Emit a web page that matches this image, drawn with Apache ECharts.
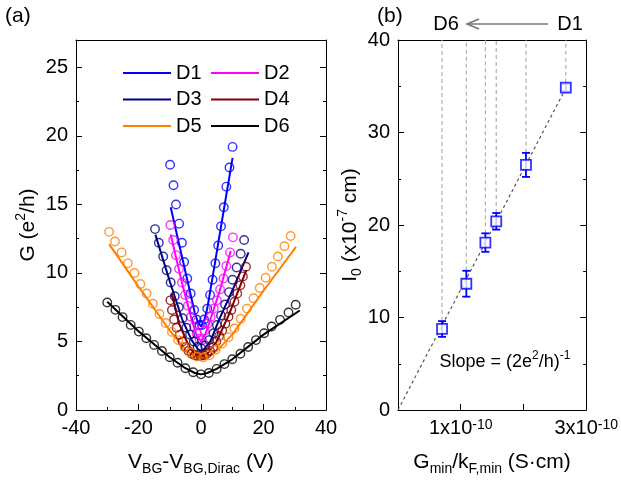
<!DOCTYPE html>
<html><head><meta charset="utf-8">
<script src="https://cdn.jsdelivr.net/npm/echarts@6/dist/echarts.min.js"></script>
<style>html,body{margin:0;padding:0;background:#fff}#c{width:621px;height:489px}</style>
</head><body><div id="c"></div>
<script>
// ---------- data: panel (a) ----------
const deviceNames = ['D1','D2','D3','D4','D5','D6'];
const d1V = [-9.9,-8.8,-8.0,-7.0,-6.1,-5.4,-4.4,-3.3,-2.2,-1.4,-0.5,0.3,1.0,2.0,2.9,3.7,4.6,5.5,6.4,7.3,8.1,9.1,10.1];
const d1G = [17.9,16.4,15.0,13.6,12.2,10.8,9.6,8.5,7.3,6.6,6.2,6.2,6.6,7.4,8.4,9.5,10.7,12.0,13.4,14.8,16.3,17.7,19.2];
const d1FitV = [-9.7,-7,-4,-2,-1,0,1,2,4,7,10.1];
const d1FitG = [14.8,12.1,9.1,7.1,6.4,6.1,6.5,7.4,10.1,14.2,18.4];

const d2V = [-9.8,-8.9,-8.0,-7.0,-6.1,-5.1,-4.2,-3.2,-2.2,-1.4,-0.5,0.3,1.2,2.1,3.1,4.1,5.1,6.1,7.2,8.1,9.3,10.2];
const d2G = [13.5,12.4,11.3,10.3,9.3,8.4,7.6,6.8,6.1,5.6,5.2,5.1,5.8,6.3,6.8,7.4,8.0,8.8,9.6,10.5,11.5,12.6];
const d2FitV = [-9.7,-6,-3,-1.5,0,1.5,3,6,9.5];
const d2FitG = [12.8,9.2,6.6,5.5,5.0,5.6,6.6,8.7,11.6];

const d3V = [-14.7,-13.5,-12.1,-11.0,-9.7,-8.4,-7.1,-5.9,-4.7,-3.5,-2.3,-1.1,0.1,1.3,2.6,4.0,5.1,6.4,7.7,9.0,10.1,11.4,12.7,13.8];
const d3G = [13.2,12.2,11.2,10.2,9.3,8.3,7.5,6.7,6.0,5.5,5.0,4.6,4.5,4.7,5.1,5.6,6.2,6.9,7.7,8.6,9.5,10.4,11.4,12.4];
const d3FitV = [-14.6,-10,-6,-3,-1,0,1,3,6,10,15.2];
const d3FitG = [12.8,9.4,6.6,5.1,4.45,4.3,4.45,5.0,6.7,8.7,11.5];

const d4V = [-9.8,-9.3,-8.6,-7.8,-6.8,-5.9,-4.9,-4.0,-3.0,-2.0,-1.1,-0.1,0.9,1.9,2.9,3.9,4.9,5.8,6.8,7.8,8.8,9.7,10.7,11.6,12.6,13.4,14.4];
const d4G = [8.0,7.3,6.6,6.0,5.5,5.0,4.6,4.3,4.1,4.0,3.95,3.95,4.0,4.1,4.3,4.6,5.0,5.4,5.8,6.3,6.8,7.3,7.9,8.5,9.1,9.75,10.45];
const d4FitV = [-9.4,-7,-4,-2,0,2,5,9,14.5];
const d4FitG = [8.5,6.3,4.7,4.1,3.9,4.1,5.0,7.0,10.2];

const d5V = [-29.4,-27.5,-25.4,-23.4,-21.3,-19.4,-17.4,-15.4,-13.3,-11.3,-9.3,-7.3,-5.3,-3.3,-1.3,0.7,2.7,4.7,6.8,8.8,10.7,12.7,14.7,16.8,18.8,20.7,22.7,24.6,26.7,28.7];
const d5G = [13.0,12.3,11.5,10.7,10.0,9.2,8.5,7.75,7.0,6.35,5.7,5.1,4.6,4.2,3.9,3.85,4.0,4.4,4.85,5.3,5.95,6.65,7.4,8.15,8.9,9.65,10.45,11.2,11.95,12.7];
const d5FitV = [-29.4,-20,-10,-5,-2,0,2,5,10,20,30.4];
const d5FitG = [12.1,9.0,5.8,4.4,3.9,3.75,3.9,4.3,5.5,8.7,11.9];

const d6V = [-30.0,-27.4,-25.1,-22.5,-19.9,-17.5,-15.0,-12.5,-10.0,-7.5,-5.0,-2.5,0.0,2.5,5.0,7.5,10.0,12.6,15.1,17.6,20.2,22.6,25.3,28.0,30.3];
const d6G = [7.84,7.31,6.78,6.21,5.72,5.24,4.75,4.3,3.85,3.45,3.05,2.75,2.6,2.7,3.0,3.35,3.7,4.1,4.6,5.1,5.6,6.09,6.58,7.11,7.68];
const d6FitV = [-30,-20,-10,-5,-2,0,2,5,10,20,31.6];
const d6FitG = [7.9,5.75,3.85,3.05,2.7,2.6,2.7,3.0,3.7,5.5,7.26];

// ---------- data: panel (b) ----------
const gOverKF = [2.675e-10, 2.04e-10, 1.566e-10, 1.393e-10, 1.089e-10, 0.702e-10];
const l0 = [34.85, 26.5, 20.4, 18.1, 13.65, 8.76];
const l0Err = [0.4, 1.3, 0.9, 1.0, 1.4, 0.85];
const slopeFitX = [0, 2.66e-10];
const slopeFitY = [0, 34.6];

// ---------- ticks ----------
const leftYMajor = [0,5,10,15,20,25];
const leftYMinor = [2.5,7.5,12.5,17.5,22.5];
const rightXLabels = [1e-10, 3e-10];
const rightXTicks = [1e-10, 2e-10];

const FONT = 'Liberation Sans, Arial, Helvetica, sans-serif';
const colors = ['#0000ff','#ff00ff','#000080','#800000','#ff8000','#000000'];
const zip = (a,b) => a.map((v,i)=>[v,b[i]]);
const pts = [[d1V,d1G],[d2V,d2G],[d3V,d3G],[d4V,d4G],[d5V,d5G],[d6V,d6G]];
const fits = [[d1FitV,d1FitG],[d2FitV,d2FitG],[d3FitV,d3FitG],[d4FitV,d4FitG],[d5FitV,d5FitG],[d6FitV,d6FitG]];

const rich = {
  sub: {fontSize: 14, verticalAlign: 'bottom', lineHeight: 14, fontFamily: FONT, color: '#000'},
  sup: {fontSize: 14, verticalAlign: 'top', lineHeight: 14, fontFamily: FONT, color: '#000'}
};
const nameStyle = {fontSize: 21, fontFamily: FONT, color: '#000', lineHeight: 28, rich: rich};
const tickLabel = {fontSize: 20, fontFamily: FONT, color: '#000'};
const blackLine = {show: true, onZero: false, lineStyle: {color: '#000', width: 1}};
const noLine = {show: false, onZero: false};

const series = [];
fits.forEach((f,i)=>{
  series.push({
    name: deviceNames[i], type: 'line', xAxisIndex: 0, yAxisIndex: 0,
    data: zip(f[0], f[1]), smooth: false, symbol: 'none',
    lineStyle: {color: colors[i], width: 2}, itemStyle: {color: colors[i]}, z: 3
  });
});
pts.forEach((p,i)=>{
  series.push({
    name: deviceNames[i] + ' data', type: 'scatter', xAxisIndex: 0, yAxisIndex: 0,
    data: zip(p[0], p[1]), symbol: 'circle', symbolSize: 8.5,
    itemStyle: {color: 'rgba(0,0,0,0)', borderColor: colors[i], borderWidth: 1.4}, z: 4
  });
});
// panel (b)
const bData = gOverKF.map((x,i)=>[x, l0[i], l0Err[i]]);
series.push({
  name: 'guides', type: 'custom', xAxisIndex: 2, yAxisIndex: 4, data: bData, z: 1,
  renderItem: (params, api) => {
    const x = api.value(0), y = api.value(1), e = api.value(2);
    const pTop = api.coord([x, y + e]);
    const pSq = api.coord([x, y]);
    const yStart = Math.min(pTop[1], pSq[1] - 5);
    const pEnd = api.coord([x, 40]);
    return {type: 'line', shape: {x1: pSq[0], y1: yStart, x2: pEnd[0], y2: pEnd[1]},
      style: {stroke: '#b0b0b0', lineWidth: 1.2, lineDash: [4, 3]}};
  }
});
series.push({
  name: 'slope fit', type: 'line', xAxisIndex: 2, yAxisIndex: 4,
  data: zip(slopeFitX, slopeFitY), symbol: 'none', z: 2,
  lineStyle: {color: '#555', width: 1.2, type: [3, 3]}
});
series.push({
  name: 'errors', type: 'custom', xAxisIndex: 2, yAxisIndex: 4, data: bData, z: 3,
  renderItem: (params, api) => {
    const x = api.value(0), y = api.value(1), e = api.value(2);
    const t = api.coord([x, y + e]), b = api.coord([x, y - e]);
    const w = 4;
    const st = {stroke: '#0000ff', lineWidth: 1.8};
    return {type: 'group', children: [
      {type: 'line', shape: {x1: t[0], y1: t[1], x2: b[0], y2: b[1]}, style: st},
      {type: 'line', shape: {x1: t[0]-w, y1: t[1], x2: t[0]+w, y2: t[1]}, style: st},
      {type: 'line', shape: {x1: b[0]-w, y1: b[1], x2: b[0]+w, y2: b[1]}, style: st}
    ]};
  }
});
series.push({
  name: 'I0', type: 'scatter', xAxisIndex: 2, yAxisIndex: 4,
  data: zip(gOverKF, l0), symbol: 'rect', symbolSize: 10, z: 5,
  itemStyle: {color: '#fff', borderColor: '#0000ff', borderWidth: 1.8}
});

const legendCommon = {
  orient: 'vertical', icon: 'rect', itemWidth: 48, itemHeight: 2, itemGap: 6.5,
  textStyle: {fontSize: 20, fontFamily: FONT, color: '#000', lineHeight: 20},
  selectedMode: false
};

const option = {
  animation: false,
  backgroundColor: '#fff',
  grid: [
    {left: 76, top: 40, width: 250, height: 370},
    {left: 398, top: 40, width: 191, height: 370}
  ],
  legend: [
    Object.assign({left: 118, top: 58, data: ['D1','D3','D5']}, legendCommon),
    Object.assign({left: 206, top: 58, data: ['D2','D4','D6']}, legendCommon)
  ],
  xAxis: [
    {gridIndex: 0, type: 'value', position: 'bottom', min: -40, max: 40, interval: 20,
     axisLine: blackLine, axisTick: {show: true, inside: true, length: 6, lineStyle: {color: '#000'}},
     minorTick: {show: true, splitNumber: 2, length: 3, lineStyle: {color: '#000'}},
     axisLabel: Object.assign({margin: 8}, tickLabel), splitLine: {show: false},
     name: 'V{sub|BG}-V{sub|BG,Dirac} (V)', nameLocation: 'middle', nameGap: 38, nameTextStyle: nameStyle},
    {gridIndex: 0, type: 'value', position: 'top', min: -40, max: 40,
     axisLine: blackLine, axisTick: {show: false}, axisLabel: {show: false}, splitLine: {show: false}},
    {gridIndex: 1, type: 'value', position: 'bottom', min: 0, max: 3e-10,
     axisLine: blackLine,
     axisTick: {show: true, inside: true, length: 6, customValues: rightXTicks, lineStyle: {color: '#000'}},
     axisLabel: Object.assign({margin: 8, customValues: rightXLabels, rich: rich,
       formatter: v => Math.round(v / 1e-10) + 'x10{sup|-10}'}, tickLabel),
     splitLine: {show: false},
     name: 'G{sub|min}/k{sub|F,min} (S·cm)', nameLocation: 'middle', nameGap: 38, nameTextStyle: nameStyle},
    {gridIndex: 1, type: 'value', position: 'top', min: 0, max: 3e-10,
     axisLine: blackLine, axisTick: {show: false}, axisLabel: {show: false}, splitLine: {show: false}}
  ],
  yAxis: [
    {gridIndex: 0, type: 'value', position: 'left', min: 0, max: 27,
     axisLine: blackLine,
     axisTick: {show: true, inside: true, length: 6, customValues: leftYMajor, lineStyle: {color: '#000'}},
     axisLabel: Object.assign({margin: 8, customValues: leftYMajor}, tickLabel), splitLine: {show: false},
     name: 'G (e{sup|2}/h)', nameLocation: 'middle', nameGap: 32, nameRotate: 90, nameTextStyle: nameStyle},
    {gridIndex: 0, type: 'value', position: 'left', min: 0, max: 27,
     axisLine: noLine, axisLabel: {show: false}, splitLine: {show: false},
     axisTick: {show: true, inside: true, length: 3, customValues: leftYMinor, lineStyle: {color: '#000'}}},
    {gridIndex: 0, type: 'value', position: 'right', min: 0, max: 27,
     axisLine: blackLine, axisLabel: {show: false}, splitLine: {show: false},
     axisTick: {show: true, inside: true, length: 6, customValues: leftYMajor, lineStyle: {color: '#000'}}},
    {gridIndex: 0, type: 'value', position: 'right', min: 0, max: 27,
     axisLine: noLine, axisLabel: {show: false}, splitLine: {show: false},
     axisTick: {show: true, inside: true, length: 3, customValues: leftYMinor, lineStyle: {color: '#000'}}},
    {gridIndex: 1, type: 'value', position: 'left', min: 0, max: 40, interval: 10,
     axisLine: blackLine, axisTick: {show: true, inside: true, length: 6, lineStyle: {color: '#000'}},
     minorTick: {show: true, splitNumber: 2, length: 3, lineStyle: {color: '#000'}},
     axisLabel: Object.assign({margin: 8}, tickLabel), splitLine: {show: false},
     name: 'I{sub|0} (x10{sup|-7} cm)', nameLocation: 'middle', nameGap: 28, nameRotate: 90, nameTextStyle: nameStyle},
    {gridIndex: 1, type: 'value', position: 'right', min: 0, max: 40, interval: 10,
     axisLine: blackLine, axisTick: {show: true, inside: true, length: 6, lineStyle: {color: '#000'}},
     minorTick: {show: true, splitNumber: 2, length: 3, lineStyle: {color: '#000'}},
     axisLabel: {show: false}, splitLine: {show: false}}
  ],
  graphic: [
    {type: 'text', left: 5, top: 6, style: {text: '(a)', fontSize: 21, fontFamily: FONT, fill: '#000'}},
    {type: 'text', left: 377, top: 6, style: {text: '(b)', fontSize: 21, fontFamily: FONT, fill: '#000'}},
    {type: 'text', x: 446, y: 24, style: {text: 'D6', fontSize: 20, fontFamily: FONT, fill: '#000', align: 'center', verticalAlign: 'middle'}},
    {type: 'text', x: 570, y: 24, style: {text: 'D1', fontSize: 20, fontFamily: FONT, fill: '#000', align: 'center', verticalAlign: 'middle'}},
    {type: 'line', shape: {x1: 548, y1: 24, x2: 467, y2: 24}, style: {stroke: '#777', lineWidth: 1.6}},
    {type: 'polyline', shape: {points: [[479, 19], [467, 24], [479, 29]]}, style: {stroke: '#777', lineWidth: 1.6, fill: null}},
    {type: 'text', x: 505, y: 362, style: {text: 'Slope = (2e{sup|2}/h){sup|-1}', fontSize: 18, fontFamily: FONT, fill: '#000',
      align: 'center', verticalAlign: 'middle', lineHeight: 24,
      rich: {sup: {fontSize: 12, verticalAlign: 'top', lineHeight: 12, fontFamily: FONT, fill: '#000'}}}}
  ],
  series: series
};
const chart = echarts.init(document.getElementById('c'), null, {renderer: 'canvas'});
chart.setOption(option);
</script>
</body></html>
